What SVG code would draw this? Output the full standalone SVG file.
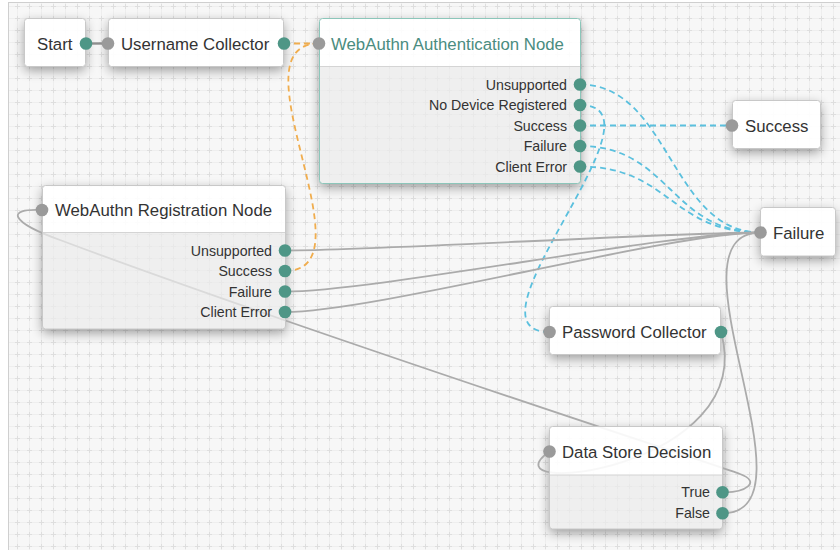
<svg xmlns="http://www.w3.org/2000/svg" width="840" height="550" viewBox="0 0 840 550">
<defs>
<pattern id="grid" x="-1" y="0" width="12" height="12" patternUnits="userSpaceOnUse">
<rect width="12" height="12" fill="#f7f7f7"/>
<path d="M6.5,0 V12 M0,6.5 H12" stroke="#eeeeee" stroke-width="1"/>
<path d="M6.5,4 V9 M4,6.5 H9" stroke="#dedede" stroke-width="1"/>
</pattern>
<filter id="sh" x="-30%" y="-30%" width="160%" height="180%">
<feGaussianBlur in="SourceAlpha" stdDeviation="6"/>
<feOffset dy="4" result="b"/>
<feComponentTransfer in="b" result="c"><feFuncA type="linear" slope="0.38"/></feComponentTransfer>
<feComposite in="c" in2="SourceAlpha" operator="out"/>
</filter>
<style>
.sh{fill:#000;filter:url(#sh)}
.box{fill:#fff;fill-opacity:0.92;stroke:#c8c8c8;stroke-width:1}
.hd{fill:#fff;fill-opacity:0.9}
.bd{fill:#ebebeb;fill-opacity:0.72}
.fr{fill:none;stroke:#c8c8c8;stroke-width:1}
.frsel{fill:none;stroke:#8cc6ba;stroke-width:1}
.dv{stroke:#d4d4d4;stroke-width:1}
.t{font-family:"Liberation Sans",Arial,Helvetica,sans-serif;font-size:16.8px;fill:#333}
.ts{fill:#4a8c80}
.l{font-family:"Liberation Sans",Arial,Helvetica,sans-serif;font-size:14.2px;fill:#333;text-anchor:end}
.po{fill:#4e9686}
.pi{fill:#9a9a9a}
.c{fill:none;stroke:#ababab;stroke-width:1.8}
.c2{fill:none;stroke:#8e8e8e;stroke-width:2.4}
.o{fill:none;stroke:#f0ad4e;stroke-width:1.8;stroke-dasharray:6 4}
.b{fill:none;stroke:#5bc0de;stroke-width:1.8;stroke-dasharray:6 4}
</style>
</defs>
<rect x="0" y="0" width="840" height="550" fill="#fff"/>
<rect x="8.5" y="2.5" width="840" height="560" fill="url(#grid)" stroke="#cfcfcf" stroke-width="1"/>
<g id="shadows">
<rect class="sh" x="24.5" y="18.5" width="61" height="48" rx="3"/>
<rect class="sh" x="108.5" y="18.5" width="175" height="48" rx="3"/>
<rect class="sh" x="319.5" y="18.5" width="261" height="165" rx="3"/>
<rect class="sh" x="42.5" y="185.5" width="243" height="143.5" rx="3"/>
<rect class="sh" x="732.5" y="100.5" width="88" height="48" rx="3"/>
<rect class="sh" x="760.5" y="207.5" width="75" height="48.5" rx="3"/>
<rect class="sh" x="549.5" y="306.5" width="171" height="48" rx="3"/>
<rect class="sh" x="549.5" y="426.5" width="173" height="102.5" rx="3"/>
</g>
<g id="connectors">
<path class="c2" d="M86,43.5 L108,43.5"/>
<path class="o" d="M284,43.5 C300,43.5 303,43.5 319,43.5"/>
<path class="o" d="M285,271 C375,271 229,43.5 319,43.5"/>
<path class="b" d="M580,84.5 C670,84.5 670.5,232.5 760.5,232.5"/>
<path class="b" d="M580,105 C675,105 454.5,332 549.5,332"/>
<path class="b" d="M580,125.5 L732,125.5"/>
<path class="b" d="M580,146 C670,146 670.5,232.5 760.5,232.5"/>
<path class="b" d="M580,166.5 C670,166.5 670.5,232.5 760.5,232.5"/>
<path class="c" d="M285,250.5 C375,250.5 670.5,232.5 760.5,232.5"/>
<path class="c" d="M285,291.5 C375,291.5 670.5,232.5 760.5,232.5"/>
<path class="c" d="M285,312 C375,312 670.5,232.5 760.5,232.5"/>
<path class="c" d="M721,332 C760,470 480,500 549.5,451.5"/>
<path class="c" d="M722.5,492.3 C745,493 762,482 740,474 C700,459.5 300,330 60,240 C10,222 5,208 42,210"/>
<path class="c" d="M722.5,513.3 C822.5,513.3 660.5,232.5 760.5,232.5"/>
</g>
<g id="node-start">
<rect class="box" x="24.5" y="18.5" width="61" height="48" rx="3"/>
<text class="t" x="37" y="50">Start</text>
<circle class="po" cx="86" cy="43.5" r="6.3"/>
</g>
<g id="node-username">
<rect class="box" x="108.5" y="18.5" width="175" height="48" rx="3"/>
<text class="t" x="121" y="50">Username Collector</text>
<circle class="pi" cx="108" cy="43.5" r="6.3"/>
<circle class="po" cx="284" cy="43.5" r="6.3"/>
</g>
<g id="node-webauthn-auth">
<path class="hd" d="M319.5,66.5 V21.5 Q319.5,18.5 322.5,18.5 H577.5 Q580.5,18.5 580.5,21.5 V66.5 Z"/>
<path class="bd" d="M319.5,66.5 H580.5 V180.5 Q580.5,183.5 577.5,183.5 H322.5 Q319.5,183.5 319.5,180.5 Z"/>
<line class="dv" x1="320" y1="66.5" x2="580" y2="66.5"/>
<rect class="frsel" x="319.5" y="18.5" width="261" height="165" rx="3"/>
<text class="t ts" x="331" y="50">WebAuthn Authentication Node</text>
<text class="l" x="567" y="89.5">Unsupported</text>
<text class="l" x="567" y="110">No Device Registered</text>
<text class="l" x="567" y="130.5">Success</text>
<text class="l" x="567" y="151">Failure</text>
<text class="l" x="567" y="171.5">Client Error</text>
<circle class="pi" cx="319" cy="43.5" r="6.3"/>
<circle class="po" cx="580" cy="84.5" r="6.3"/>
<circle class="po" cx="580" cy="105" r="6.3"/>
<circle class="po" cx="580" cy="125.5" r="6.3"/>
<circle class="po" cx="580" cy="146" r="6.3"/>
<circle class="po" cx="580" cy="166.5" r="6.3"/>
</g>
<g id="node-webauthn-reg">
<path class="hd" d="M42.5,232.5 V188.5 Q42.5,185.5 45.5,185.5 H282.5 Q285.5,185.5 285.5,188.5 V232.5 Z"/>
<path class="bd" d="M42.5,232.5 H285.5 V326 Q285.5,329 282.5,329 H45.5 Q42.5,329 42.5,326 Z"/>
<line class="dv" x1="43" y1="232.5" x2="285" y2="232.5"/>
<rect class="fr" x="42.5" y="185.5" width="243" height="143.5" rx="3"/>
<text class="t" x="55" y="216">WebAuthn Registration Node</text>
<text class="l" x="272" y="255.5">Unsupported</text>
<text class="l" x="272" y="276">Success</text>
<text class="l" x="272" y="296.5">Failure</text>
<text class="l" x="272" y="317">Client Error</text>
<circle class="pi" cx="42" cy="210" r="6.3"/>
<circle class="po" cx="285" cy="250.5" r="6.3"/>
<circle class="po" cx="285" cy="271" r="6.3"/>
<circle class="po" cx="285" cy="291.5" r="6.3"/>
<circle class="po" cx="285" cy="312" r="6.3"/>
</g>
<g id="node-success">
<rect class="box" x="732.5" y="100.5" width="88" height="48" rx="3"/>
<text class="t" x="745" y="132">Success</text>
<circle class="pi" cx="732" cy="125.5" r="6.3"/>
</g>
<g id="node-failure">
<rect class="box" x="760.5" y="207.5" width="75" height="48.5" rx="3"/>
<text class="t" x="773" y="238.5">Failure</text>
<circle class="pi" cx="760.5" cy="232.5" r="6.3"/>
</g>
<g id="node-password">
<rect class="box" x="549.5" y="306.5" width="171" height="48" rx="3"/>
<text class="t" x="562" y="338">Password Collector</text>
<circle class="pi" cx="549.5" cy="332" r="6.3"/>
<circle class="po" cx="721" cy="332" r="6.3"/>
</g>
<g id="node-datastore">
<path class="hd" d="M549.5,475 V429.5 Q549.5,426.5 552.5,426.5 H719.5 Q722.5,426.5 722.5,429.5 V475 Z"/>
<path class="bd" d="M549.5,475 H722.5 V526 Q722.5,529 719.5,529 H552.5 Q549.5,529 549.5,526 Z"/>
<line class="dv" x1="550" y1="475" x2="722" y2="475"/>
<rect class="fr" x="549.5" y="426.5" width="173" height="102.5" rx="3"/>
<text class="t" x="562" y="457.5">Data Store Decision</text>
<text class="l" x="710" y="497.3">True</text>
<text class="l" x="710" y="518.3">False</text>
<circle class="pi" cx="549.5" cy="451.5" r="6.3"/>
<circle class="po" cx="722.5" cy="492.3" r="6.3"/>
<circle class="po" cx="722.5" cy="513.3" r="6.3"/>
</g>
</svg>
